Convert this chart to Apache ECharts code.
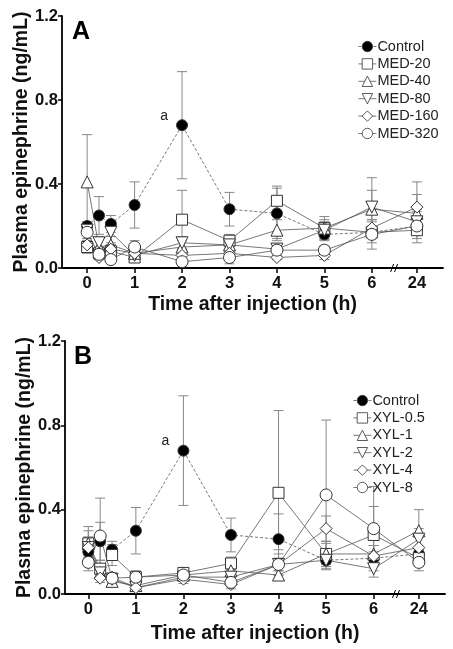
<!DOCTYPE html>
<html>
<head>
<meta charset="utf-8">
<script src="https://cdn.jsdelivr.net/npm/echarts@6/dist/echarts.min.js"></script>
<style>html,body{margin:0;padding:0;background:#fff;}#c{width:453px;height:649px;}</style>
</head>
<body>
<div id="c"></div>
<script>
// ---- data ----
const times = [0, 0.25, 0.5, 1, 2, 3, 4, 5, 6, 24];
const xTickValues = [0, 1, 2, 3, 4, 5, 6, 24];
const yTicks = [0, 0.4, 0.8, 1.2];

const namesA = ['Control', 'MED-20', 'MED-40', 'MED-80', 'MED-160', 'MED-320'];
const A_control = [0.20, 0.25, 0.21, 0.30, 0.68, 0.28, 0.26, 0.16, 0.17, 0.20];
const A_control_err = [0.02, 0.09, 0.04, 0.11, 0.255, 0.08, 0.12, 0.03, 0.03, 0.03];
const A_med20 = [0.10, 0.07, 0.08, 0.05, 0.23, 0.13, 0.32, 0.19, 0.17, 0.18];
const A_med20_err = [0.03, 0.03, 0.03, 0.02, 0.14, 0.03, 0.07, 0.055, 0.05, 0.04];
const A_med40 = [0.41, 0.10, 0.11, 0.07, 0.10, 0.11, 0.18, 0.19, 0.28, 0.26];
const A_med40_err = [0.225, 0.05, 0.04, 0.02, 0.03, 0.03, 0.05, 0.04, 0.09, 0.09];
const A_med80 = [0.18, 0.12, 0.17, 0.06, 0.12, 0.11, 0.09, 0.18, 0.29, 0.22];
const A_med80_err = [0.04, 0.03, 0.05, 0.02, 0.03, 0.03, 0.02, 0.04, 0.14, 0.05];
const A_med160 = [0.11, 0.05, 0.09, 0.07, 0.06, 0.07, 0.05, 0.06, 0.19, 0.29];
const A_med160_err = [0.02, 0.01, 0.02, 0.02, 0.02, 0.02, 0.01, 0.02, 0.04, 0.12];
const A_med320 = [0.17, 0.065, 0.04, 0.10, 0.03, 0.05, 0.085, 0.085, 0.16, 0.20];
const A_med320_err = [0.03, 0.02, 0.01, 0.03, 0.02, 0.03, 0.03, 0.02, 0.07, 0.08];

const namesB = ['Control', 'XYL-0.5', 'XYL-1', 'XYL-2', 'XYL-4', 'XYL-8'];
const B_control = [0.20, 0.25, 0.21, 0.30, 0.68, 0.28, 0.26, 0.16, 0.17, 0.19];
const B_control_err = [0.03, 0.09, 0.04, 0.11, 0.26, 0.08, 0.12, 0.03, 0.03, 0.03];
const B_xyl05 = [0.24, 0.12, 0.185, 0.08, 0.10, 0.145, 0.48, 0.19, 0.28, 0.17];
const B_xyl05_err = [0.08, 0.04, 0.05, 0.02, 0.02, 0.03, 0.39, 0.05, 0.135, 0.04];
const B_xyl1 = [0.24, 0.10, 0.06, 0.04, 0.09, 0.11, 0.09, 0.19, 0.19, 0.30];
const B_xyl1_err = [0.06, 0.03, 0.02, 0.01, 0.02, 0.03, 0.02, 0.06, 0.04, 0.10];
const B_xyl2 = [0.22, 0.10, 0.07, 0.03, 0.08, 0.08, 0.14, 0.16, 0.12, 0.26];
const B_xyl2_err = [0.05, 0.03, 0.02, 0.01, 0.02, 0.02, 0.03, 0.04, 0.04, 0.05];
const B_xyl4 = [0.22, 0.075, 0.08, 0.03, 0.07, 0.045, 0.14, 0.31, 0.18, 0.22];
const B_xyl4_err = [0.05, 0.02, 0.02, 0.01, 0.02, 0.02, 0.05, 0.06, 0.05, 0.05];
const B_xyl8 = [0.15, 0.275, 0.075, 0.08, 0.09, 0.055, 0.14, 0.47, 0.31, 0.15];
const B_xyl8_err = [0.04, 0.18, 0.02, 0.03, 0.02, 0.02, 0.07, 0.355, 0.2, 0.04];

// ---- helpers ----
const BREAK_POS = 6.95;   // axis position used for the 24 h point (broken axis)
const BREAK_MARK = 6.48;
const xPos = t => (t <= 6 ? t : BREAK_POS);
const FONT = '"Liberation Sans", Arial, sans-serif';

const markers = [
  { symbol: 'circle', size: 11, rotate: 0, fill: '#000' },
  { symbol: 'rect', size: 11, rotate: 0, fill: '#fff' },
  { symbol: 'triangle', size: 12, rotate: 0, fill: '#fff' },
  { symbol: 'triangle', size: 12, rotate: 180, fill: '#fff' },
  { symbol: 'diamond', size: 12, rotate: 0, fill: '#fff' },
  { symbol: 'circle', size: 12, rotate: 0, fill: '#fff' }
];

function lineSeries(name, vals, idx, gi) {
  const m = markers[idx];
  const data = vals.map((v, i) => {
    const item = { value: [xPos(times[i]), v] };
    if (idx === 0 && times[i] === 2) {
      item.label = { show: true, formatter: 'a', position: 'inside', offset: [-18, -9],
        fontFamily: FONT, fontSize: 14, color: '#222' };
    }
    return item;
  });
  return {
    type: 'line', name: name, xAxisIndex: gi, yAxisIndex: gi, data: data,
    symbol: m.symbol, symbolSize: m.size, symbolRotate: m.rotate,
    showAllSymbol: true, z: 3,
    lineStyle: { color: '#555', width: 0.8, type: idx === 0 ? [3, 2] : 'solid' },
    itemStyle: { color: m.fill, borderColor: '#333', borderWidth: 1 },
    emphasis: { disabled: true },
    label: { show: false },
    animation: false
  };
}

function errSeries(vals, errs, gi) {
  return {
    type: 'custom', xAxisIndex: gi, yAxisIndex: gi, z: 1, silent: true,
    data: vals.map((v, i) => [xPos(times[i]), v, errs[i]]),
    encode: { x: 0, y: 1 },
    renderItem: function (params, api) {
      const x = api.value(0), y = api.value(1), e = api.value(2);
      const lo = api.coord([x, Math.max(0, y - e)]);
      const hi = api.coord([x, y + e]);
      const w = 5;
      const st = { stroke: '#888', lineWidth: 1 };
      return { type: 'group', children: [
        { type: 'line', shape: { x1: hi[0], y1: hi[1], x2: lo[0], y2: lo[1] }, style: st },
        { type: 'line', shape: { x1: hi[0] - w, y1: hi[1], x2: hi[0] + w, y2: hi[1] }, style: st },
        { type: 'line', shape: { x1: lo[0] - w, y1: lo[1], x2: lo[0] + w, y2: lo[1] }, style: st }
      ]};
    },
    animation: false
  };
}

function breakSeries(gi) {
  return {
    type: 'custom', xAxisIndex: gi, yAxisIndex: gi, z: 5, silent: true, clip: false,
    data: [[BREAK_MARK, 0]],
    renderItem: function (params, api) {
      const p = api.coord([api.value(0), api.value(1)]);
      const st = { stroke: '#000', lineWidth: 1 };
      return { type: 'group', children: [
        { type: 'line', shape: { x1: p[0] - 4, y1: p[1] + 4, x2: p[0] - 1, y2: p[1] - 4 }, style: st },
        { type: 'line', shape: { x1: p[0] + 0, y1: p[1] + 4, x2: p[0] + 3, y2: p[1] - 4 }, style: st }
      ]};
    },
    animation: false
  };
}

function xAxis(gi, minV, gap) {
  return {
    type: 'value', gridIndex: gi, min: minV, max: 7.5,
    name: 'Time after injection (h)', nameLocation: 'middle', nameGap: gap,
    nameTextStyle: { fontFamily: FONT, fontWeight: 'bold', fontSize: 19.5, color: '#111' },
    axisLine: { show: true, onZero: false, lineStyle: { color: '#000', width: 1.8 } },
    axisTick: { show: true, inside: false, length: 5, lineStyle: { color: '#000', width: 1.5 },
      customValues: xTickValues.map(xPos) },
    axisLabel: { show: true, margin: 7, fontFamily: FONT, fontWeight: 'bold', fontSize: 16.5, color: '#111',
      customValues: xTickValues.map(xPos),
      formatter: v => (v > 6.5 ? '24' : String(Math.round(v))) },
    splitLine: { show: false }
  };
}

function yAxis(gi) {
  return {
    type: 'value', gridIndex: gi, min: 0, max: 1.2, interval: 0.4,
    name: 'Plasma epinephrine (ng/mL)', nameLocation: 'middle', nameGap: 30, nameRotate: 90,
    nameMoveOverlap: false,
    nameTextStyle: { fontFamily: FONT, fontWeight: 'bold', fontSize: 19.5, color: '#111' },
    axisLine: { show: true, onZero: false, lineStyle: { color: '#000', width: 1.8 } },
    axisTick: { show: true, inside: false, length: 4, lineStyle: { color: '#000', width: 1.5 } },
    axisLabel: { margin: 4, fontFamily: FONT, fontWeight: 'bold', fontSize: 16.5, color: '#111',
      customValues: yTicks, formatter: v => v.toFixed(1) },
    splitLine: { show: false }
  };
}

const seriesA = [A_control, A_med20, A_med40, A_med80, A_med160, A_med320];
const errsA = [A_control_err, A_med20_err, A_med40_err, A_med80_err, A_med160_err, A_med320_err];
const seriesB = [B_control, B_xyl05, B_xyl1, B_xyl2, B_xyl4, B_xyl8];
const errsB = [B_control_err, B_xyl05_err, B_xyl1_err, B_xyl2_err, B_xyl4_err, B_xyl8_err];

const series = [];
seriesA.forEach((v, i) => series.push(errSeries(v, errsA[i], 0)));
seriesB.forEach((v, i) => series.push(errSeries(v, errsB[i], 1)));
seriesA.forEach((v, i) => series.push(lineSeries(namesA[i], v, i, 0)));
seriesB.forEach((v, i) => series.push(lineSeries(namesB[i], v, i, 1)));
series.push(breakSeries(0), breakSeries(1));

const legendCommon = {
  orient: 'vertical', itemWidth: 18, itemHeight: 13, itemGap: 2.4,
  itemStyle: { borderWidth: 0.8 },
  lineStyle: { width: 0.8 },
  textStyle: { fontFamily: FONT, fontSize: 14.5, color: '#222', padding: [0, 0, 0, -4] },
  selectedMode: false, padding: 0
};

const option = {
  backgroundColor: '#fff',
  animation: false,
  grid: [
    { left: 62, top: 16, width: 381, height: 252 },
    { left: 65, top: 341, width: 380, height: 253 }
  ],
  xAxis: [xAxis(0, -0.53, 27), xAxis(1, -0.49, 30)],
  yAxis: [yAxis(0), yAxis(1)],
  legend: [
    Object.assign({ left: 358, top: 39, data: namesA.slice() }, legendCommon),
    Object.assign({ left: 353, top: 393, data: namesB.map(n => ({ name: n })) }, legendCommon)
  ],
  graphic: [
    { type: 'text', left: 72, top: 20, style: { text: 'A', fontFamily: FONT, fontWeight: 'bold', fontSize: 25, fill: '#000' } },
    { type: 'text', left: 74, top: 345, style: { text: 'B', fontFamily: FONT, fontWeight: 'bold', fontSize: 25, fill: '#000' } }
  ],
  series: series
};

const chart = echarts.init(document.getElementById('c'), null, { renderer: 'canvas' });
chart.setOption(option);
</script>
</body>
</html>
